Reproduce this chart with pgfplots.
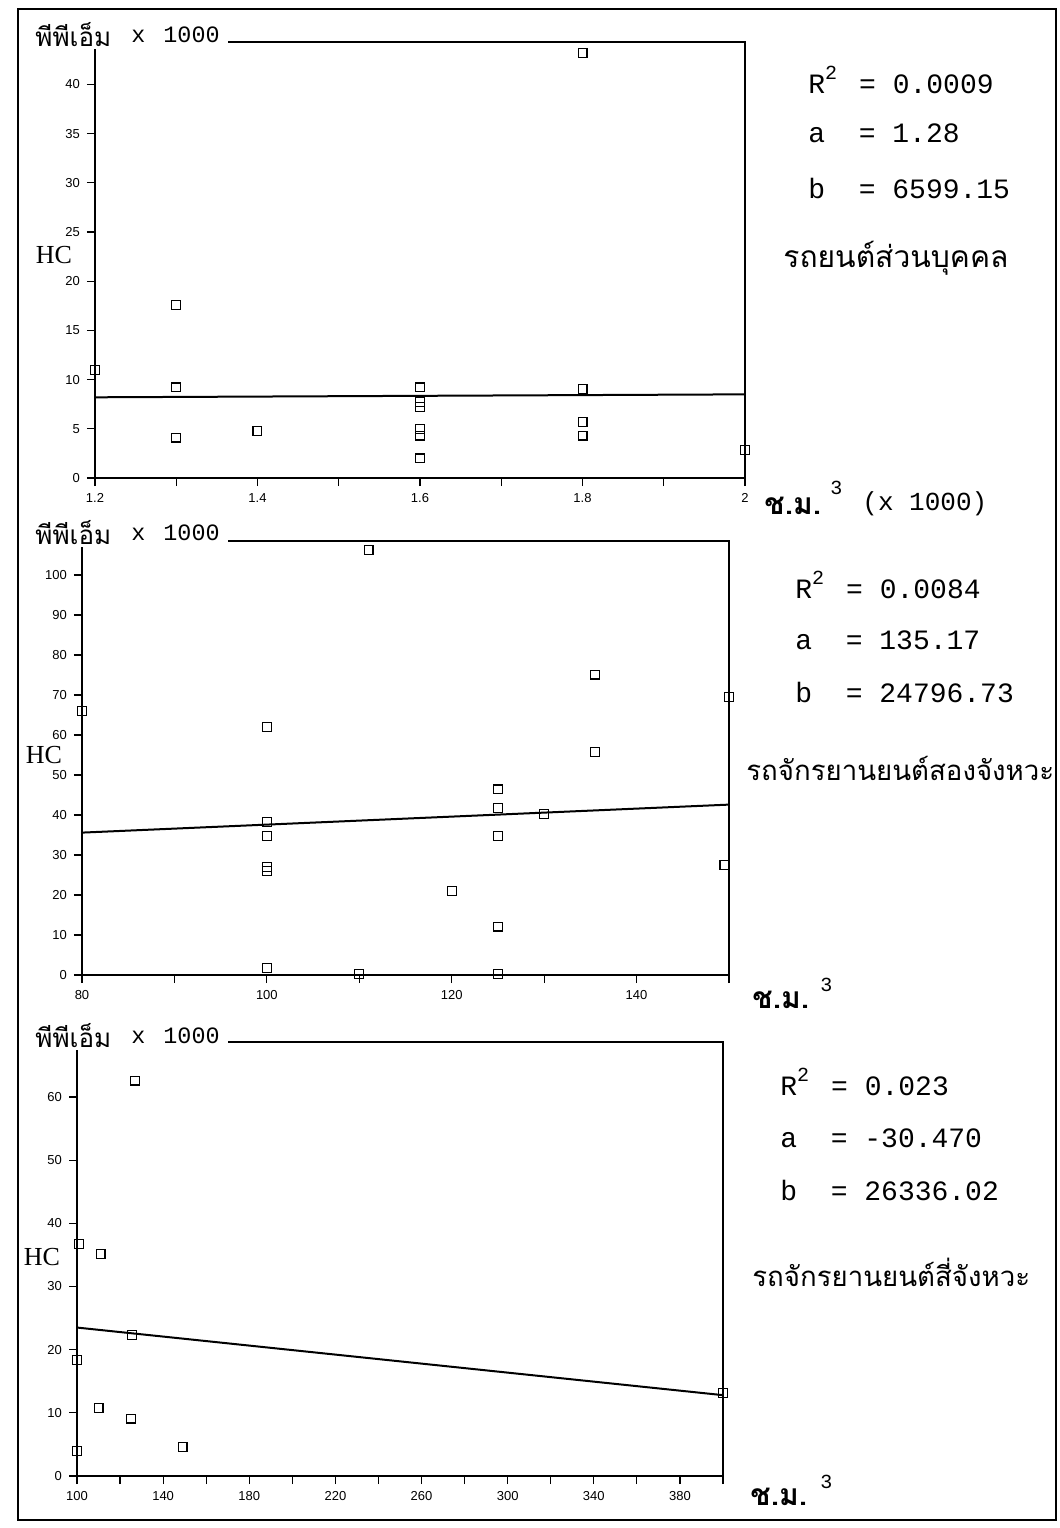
\documentclass[border=0pt]{standalone}
\usepackage{fontspec}
\usepackage{pgfplots}
\pgfplotsset{compat=1.18}
\setmainfont{Liberation Serif}
\newfontfamily\thai[Script=Thai]{Loma}
\newfontfamily\mono{Liberation Mono}
\newfontfamily\tickf{Liberation Sans}
\newcommand\Rsq{\makebox[17pt][l]{R\raisebox{1.0ex}{\fontsize{10}{10}\selectfont 2}}}
\pgfplotsset{
  panel/.style={
    scale only axis, clip=false,
    axis line style={line width=0.9pt},
    tick align=outside, major tick length=4pt,
    tick style={black,line width=0.6pt},
    xtick pos=bottom, ytick pos=left,
    ymin=0,
    ticklabel style={font=\tickf\fontsize{6.5}{7}\selectfont},
    /pgf/number format/assume math mode=true,
  },
  pts/.style={black, only marks, mark=square, mark size=2.2pt, mark options={line width=0.6pt}},
  fit/.style={black, line width=1pt, no marks},
}
\begin{document}
\begin{tikzpicture}
\useasboundingbox (0,0) rectangle (530pt,-764pt);
\draw[line width=0.6pt] (9pt,-4.5pt) rectangle (528pt,-760pt);

% ---------------- Panel 1 ----------------
\begin{axis}[panel, at={(47.5pt,-239pt)}, anchor=south west,
  width=325pt, height=218pt,
  xmin=1.2, xmax=2.0, ymax=44.3,
  xtick={1.2,1.3,1.4,1.5,1.6,1.7,1.8,1.9,2.0},
  xticklabels={1.2,,1.4,,1.6,,1.8,,2},
  ytick={0,5,10,15,20,25,30,35,40}]
\addplot[pts] coordinates {
(1.2,11.0) (1.3,17.6) (1.3,9.2) (1.3,4.1) (1.4,4.8)
(1.6,9.2) (1.6,7.7) (1.6,7.2) (1.6,5.0) (1.6,4.3) (1.6,2.0)
(1.8,43.2) (1.8,9.05) (1.8,5.7) (1.8,4.3) (2.0,2.85)};
\addplot[fit] coordinates {(1.2,8.2) (2.0,8.5)};
\end{axis}

% ---------------- Panel 2 ----------------
\begin{axis}[panel, at={(41pt,-487.5pt)}, anchor=south west,
  width=323.5pt, height=217pt,
  xmin=80, xmax=150, ymax=108.5,
  xtick={80,90,100,110,120,130,140,150},
  xticklabels={80,,100,,120,,140,},
  ytick={0,10,20,30,40,50,60,70,80,90,100}]
\addplot[pts] coordinates {
(80,66) (100,62) (100,38.2) (100,34.8) (100,27) (100,26) (100,1.8)
(110,0.2) (111,106.3) (120,21) (125,46.4) (125,41.7) (125,34.8) (125,12.1) (125,0.2)
(130,40.3) (135.5,75.1) (135.5,55.7) (150,69.5) (149.5,27.5)};
\addplot[fit] coordinates {(80,35.6) (150,42.6)};
\end{axis}

% ---------------- Panel 3 ----------------
\begin{axis}[panel, at={(38.5pt,-738pt)}, anchor=south west,
  width=323pt, height=217pt,
  xmin=100, xmax=400, ymax=68.7,
  xtick={100,120,140,160,180,200,220,240,260,280,300,320,340,360,380,400},
  xticklabels={100,,140,,180,,220,,260,,300,,340,,380,},
  ytick={0,10,20,30,40,50,60}]
\addplot[pts] coordinates {
(101,36.7) (100,18.4) (100,4.0) (111,35.1) (110,10.8)
(127,62.6) (125.5,22.3) (125,9.1) (149,4.6) (400,13.1)};
\addplot[fit] coordinates {(100,23.5) (400,12.8)};
\end{axis}

% ---------------- y labels on top-left ----------------
\foreach \yy in {-17.5pt,-266.5pt,-518pt}{
  \fill[white] (15pt,\yy+7pt) rectangle (114pt,\yy-7pt);
  \node[anchor=west, inner sep=0pt, font=\thai\fontsize{13}{15}\selectfont] at (17.5pt,\yy) {พีพีเอ็ม};
  \node[anchor=west, inner sep=0pt, font=\mono\fontsize{11.7}{14}\selectfont] at (65.5pt,\yy) {x\hspace{9pt}1000};
}
% HC
\node[font=\fontsize{13}{15}\selectfont] at (27pt,-127.5pt) {HC};
\node[font=\fontsize{13}{15}\selectfont] at (22pt,-377.5pt) {HC};
\node[font=\fontsize{13}{15}\selectfont] at (21pt,-628.5pt) {HC};

% ---------------- right texts ----------------
\begin{scope}[every node/.style={anchor=west, inner sep=0pt, font=\mono\fontsize{14}{16}\selectfont}]
\node at (404pt,-40pt) {\Rsq~= 0.0009};
\node at (404pt,-66.5pt) {a~~= 1.28};
\node at (404pt,-94pt) {b~~= 6599.15};
\node at (397.5pt,-292.5pt) {\Rsq~= 0.0084};
\node at (397.5pt,-320pt) {a~~= 135.17};
\node at (397.5pt,-346pt) {b~~= 24796.73};
\node at (390pt,-541pt) {\Rsq~= 0.023};
\node at (390pt,-569pt) {a~~= -30.470};
\node at (390pt,-595pt) {b~~= 26336.02};
\end{scope}
\begin{scope}[every node/.style={anchor=west, inner sep=0pt}]
\node[font=\thai\fontsize{15}{18}\selectfont] at (391.5pt,-129pt) {รถยนต์ส่วนบุคคล};
\node[font=\thai\fontsize{13.8}{17}\selectfont] at (373pt,-384pt) {รถจักรยานยนต์สองจังหวะ};
\node[font=\thai\fontsize{13.8}{17}\selectfont] at (376pt,-636pt) {รถจักรยานยนต์สี่จังหวะ};
\end{scope}
\begin{scope}[every node/.style={anchor=west, inner sep=0pt}]
\node[font=\thai\bfseries\fontsize{15}{18}\selectfont] at (382pt,-253pt) {ช.ม.};
\node[font=\mono\fontsize{10}{12}\selectfont] at (415pt,-244pt) {3};
\node[font=\mono\fontsize{13}{15}\selectfont] at (431pt,-252pt) {(x 1000)};
\node[font=\thai\bfseries\fontsize{15}{18}\selectfont] at (376pt,-500pt) {ช.ม.};
\node[font=\mono\fontsize{10}{12}\selectfont] at (410pt,-492.5pt) {3};
\node[font=\thai\bfseries\fontsize{15}{18}\selectfont] at (375pt,-748.5pt) {ช.ม.};
\node[font=\mono\fontsize{10}{12}\selectfont] at (410pt,-741pt) {3};
\end{scope}
\end{tikzpicture}
\end{document}
